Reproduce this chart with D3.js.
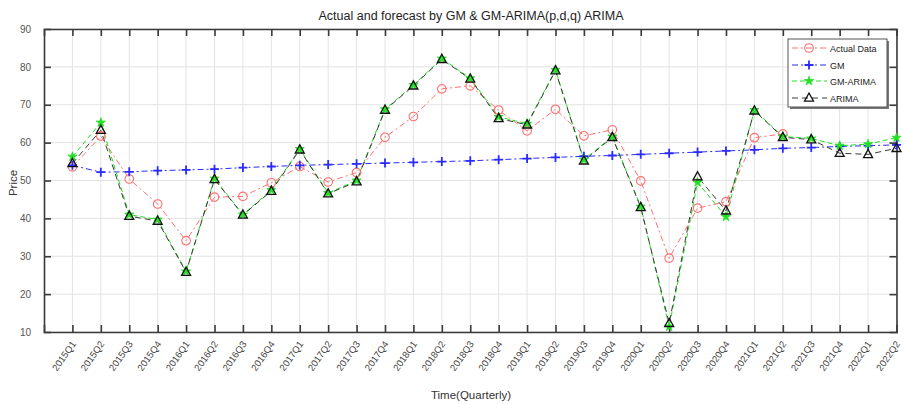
<!DOCTYPE html>
<html>
<head>
<meta charset="utf-8">
<script src="https://cdn.jsdelivr.net/npm/d3@7"></script>
<style>
  html, body { margin: 0; padding: 0; background: #fff; }
  svg { display: block; font-family: "Liberation Sans", Arial, sans-serif; }
</style>
</head>
<body>
<svg id="chart" width="904" height="404"></svg>
<script>
// Quarterly labels
const quarters = [
  "2015Q1","2015Q2","2015Q3","2015Q4","2016Q1","2016Q2","2016Q3","2016Q4",
  "2017Q1","2017Q2","2017Q3","2017Q4","2018Q1","2018Q2","2018Q3","2018Q4",
  "2019Q1","2019Q2","2019Q3","2019Q4","2020Q1","2020Q2","2020Q3","2020Q4",
  "2021Q1","2021Q2","2021Q3","2021Q4","2022Q1","2022Q2"
];
// Observed price (available through 2021Q2)
const actual = [53.6, 61.7, 50.4, 43.8, 34.1, 45.6, 45.8, 49.4, 53.7, 49.6,
  52.1, 61.4, 66.9, 74.2, 75.0, 68.6, 63.1, 68.8, 61.8, 63.4,
  49.9, 29.5, 42.7, 44.4, 61.3, 62.3];
// Grey model fit / forecast
const gm = [54.0, 52.2, 52.3, 52.6, 52.8, 53.0, 53.4, 53.7, 54.0, 54.2,
  54.4, 54.6, 54.8, 55.0, 55.2, 55.5, 55.8, 56.1, 56.4, 56.6,
  56.9, 57.2, 57.5, 57.8, 58.1, 58.5, 58.7, 59.0, 59.2, 59.4];
// Hybrid GM-ARIMA
const gmArima = [56.3, 65.3, 41.0, 39.7, 26.0, 50.5, 41.0, 47.5, 58.3, 46.7,
  50.0, 68.8, 75.2, 82.2, 77.0, 66.8, 65.0, 79.2, 55.5, 61.6,
  43.1, 11.4, 49.5, 40.4, 68.6, 61.6, 61.1, 59.2, 59.6, 61.3];
// ARIMA(p,d,q)
const arima = [54.5, 63.3, 40.6, 39.3, 25.8, 50.3, 40.9, 47.2, 58.1, 46.5,
  49.7, 68.6, 75.0, 82.0, 76.8, 66.4, 64.7, 79.0, 55.2, 61.4,
  42.9, 12.3, 51.0, 42.0, 68.4, 61.4, 60.8, 57.2, 56.9, 58.5];
const yTicks = [10, 20, 30, 40, 50, 60, 70, 80, 90];

const svg = d3.select("#chart");
const L = 44, R = 896.5, T = 29, B = 332;

const x = d3.scaleLinear().domain([0, quarters.length]).range([L, R]);
const y = d3.scaleLinear().domain([10, 90]).range([B, T]);
const idx = d3.range(1, quarters.length + 1);

const axisColor = "#3a3a3a";

// grid
const grid = svg.append("g");
grid.selectAll("line.gx").data(idx).join("line")
  .attr("x1", d => x(d)).attr("x2", d => x(d))
  .attr("y1", T).attr("y2", B)
  .attr("stroke", "#e3e3e3").attr("stroke-width", 1);
grid.selectAll("line.gy").data(yTicks).join("line")
  .attr("x1", L).attr("x2", R)
  .attr("y1", d => y(d)).attr("y2", d => y(d))
  .attr("stroke", "#e3e3e3").attr("stroke-width", 1);

// axes (inward ticks, box)
const tk = 7;
const xb = svg.append("g").attr("transform", `translate(0,${B})`)
  .call(d3.axisBottom(x).tickValues(idx).tickSize(-tk).tickFormat(""));
const xt = svg.append("g").attr("transform", `translate(0,${T})`)
  .call(d3.axisTop(x).tickValues(idx).tickSize(-tk).tickFormat(""));
const yl = svg.append("g").attr("transform", `translate(${L},0)`)
  .call(d3.axisLeft(y).tickValues(yTicks).tickSize(-tk).tickPadding(6 + tk));
const yr = svg.append("g").attr("transform", `translate(${R},0)`)
  .call(d3.axisRight(y).tickValues(yTicks).tickSize(-tk).tickFormat(""));
[xb, xt, yl, yr].forEach(g => {
  g.select(".domain").attr("stroke", axisColor).attr("stroke-width", 1.6);
  g.selectAll(".tick line").attr("stroke", axisColor).attr("stroke-width", 1.6);
});
yl.selectAll(".tick text").attr("fill", "#555").attr("font-size", 10)
  .attr("font-family", "Liberation Sans, Arial, sans-serif");
// drop end ticks that coincide with the frame
yl.selectAll(".tick").filter(d => d === 10 || d === 90).select("line").remove();
yr.selectAll(".tick").filter(d => d === 10 || d === 90).select("line").remove();
xt.selectAll(".tick").filter(d => d === quarters.length).select("line").remove();
xb.selectAll(".tick").filter(d => d === quarters.length).select("line").remove();

// rotated quarter labels
svg.append("g").selectAll("text").data(idx).join("text")
  .attr("transform", d => `translate(${x(d) + 4},${B + 12}) rotate(-55)`)
  .attr("text-anchor", "end")
  .attr("font-size", 9.5)
  .attr("fill", "#444")
  .text(d => quarters[d - 1]);

// titles
svg.append("text").attr("x", 471).attr("y", 20).attr("text-anchor", "middle")
  .attr("font-size", 12.5).attr("fill", "#222")
  .text("Actual and forecast by GM & GM-ARIMA(p,d,q) ARIMA");
svg.append("text").attr("x", 471).attr("y", 399).attr("text-anchor", "middle")
  .attr("font-size", 11.5).attr("fill", "#333").text("Time(Quarterly)");
svg.append("text").attr("transform", "translate(17,183) rotate(-90)")
  .attr("text-anchor", "middle").attr("font-size", 11.5).attr("fill", "#333")
  .text("Price");

// series definitions
const series = [
  { name: "Actual Data", values: actual, color: "#ff7070", dash: "6,3,2,3", marker: "circle" },
  { name: "GM", values: gm, color: "#2b2bff", dash: "6,3,2,3", marker: "plus" },
  { name: "GM-ARIMA", values: gmArima, color: "#22e022", dash: "5,3", marker: "star" },
  { name: "ARIMA", values: arima, color: "#3a3a3a", dash: "6,4", marker: "triangle" }
];

const line = d3.line().x((d, i) => x(i + 1)).y(d => y(d));

function drawMarker(g, type, color) {
  if (type === "circle") {
    g.append("circle").attr("r", 4.3).attr("fill", "none")
      .attr("stroke", color).attr("stroke-width", 1.1);
  } else if (type === "plus") {
    g.append("path").attr("d", "M-4.5,0H4.5M0,-4.5V4.5")
      .attr("stroke", color).attr("stroke-width", 1.8);
  } else if (type === "star") {
    g.append("path").attr("d", d3.symbol().type(d3.symbolStar).size(26)())
      .attr("fill", color).attr("stroke", color).attr("stroke-width", 0.8);
  } else if (type === "triangle") {
    g.append("path").attr("d", "M0,-5L4.5,3.2L-4.5,3.2Z")
      .attr("fill", "none").attr("stroke", "#111").attr("stroke-width", 1.3);
  }
}

const plot = svg.append("g");
series.forEach(s => {
  plot.append("path").datum(s.values).attr("d", line)
    .attr("fill", "none").attr("stroke", s.color).attr("stroke-width", 1)
    .attr("stroke-dasharray", s.dash);
});
series.forEach(s => {
  s.values.forEach((v, i) => {
    const g = plot.append("g").attr("transform", `translate(${x(i + 1)},${y(v)})`);
    drawMarker(g, s.marker, s.color);
  });
});

// legend
const lg = svg.append("g");
lg.append("rect").attr("x", 790).attr("y", 41).attr("width", 99).attr("height", 68)
  .attr("fill", "#777");
lg.append("rect").attr("x", 788).attr("y", 39).attr("width", 99).attr("height", 68)
  .attr("fill", "#fff").attr("stroke", "#555").attr("stroke-width", 1);
const rowY = [48, 65, 81, 98];
series.forEach((s, i) => {
  const ry = rowY[i];
  lg.append("line").attr("x1", 792).attr("x2", 827).attr("y1", ry).attr("y2", ry)
    .attr("stroke", s.color).attr("stroke-width", 1).attr("stroke-dasharray", s.dash);
  const g = lg.append("g").attr("transform", `translate(809,${ry})`);
  drawMarker(g, s.marker, s.color);
  lg.append("text").attr("x", 830).attr("y", ry + 3.5).attr("font-size", 9)
    .attr("fill", "#222").text(s.name);
});
</script>
</body>
</html>
